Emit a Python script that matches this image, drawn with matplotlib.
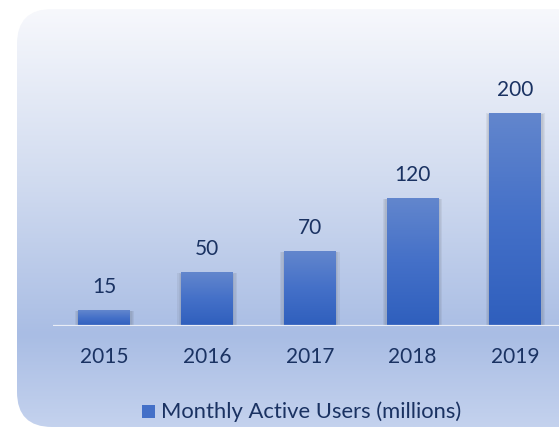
import matplotlib.pyplot as plt
import numpy as np
import matplotlib as mb
from matplotlib.colors import LinearSegmentedColormap
from matplotlib.patches import FancyBboxPatch, Rectangle

years = ["2015", "2016", "2017", "2018", "2019"]
users = [15, 50, 70, 120, 200]
series_name = "Monthly Active Users (millions)"

text_color = "#1a3262"
font = 15
mb.rcParams["font.family"] = ["Lato", "DejaVu Sans"]

W, H = 559, 430
fig = plt.figure(figsize=(W / 100, H / 100), dpi=100)

# background rounded card with vertical gradient
bg = fig.add_axes([0, 0, 1, 1])
bg.set_xlim(0, W)
bg.set_ylim(0, H)
bg.axis("off")
bg_cmap = LinearSegmentedColormap.from_list(
    "bg", [(0.0, "#c4d2ee"), (0.22, "#a9bde4"), (0.6, "#d2dcf0"), (1.0, "#f7f8fc")])
grad = np.linspace(0, 1, 256).reshape(-1, 1)
img = bg.imshow(grad, cmap=bg_cmap, extent=[17, W + 40, 3, 421], origin="lower",
                aspect="auto", zorder=0)
card = FancyBboxPatch((17 + 35, 3 + 35), W - 17 + 40 - 70, 418 - 70,
                      boxstyle="round,pad=35", transform=bg.transData,
                      facecolor="none", edgecolor="none")
bg.add_patch(card)
img.set_clip_path(card)

# main axes: categories -0.5..4.5 map to x=53..566.75 px
ax_left = 53 / W
ax_width = 513.75 / W
ax_bottom = 104 / H
ymax = 220
ax_height = ymax * 1.065 / H
ax = fig.add_axes([ax_left, ax_bottom, ax_width, ax_height])
ax.patch.set_alpha(0)
for s in ax.spines.values():
    s.set_visible(False)
ax.set_yticks([])
ax.set_xticks(range(len(years)))
ax.set_xticklabels(years, fontsize=font, color=text_color)
ax.tick_params(axis="x", length=0, pad=15)

bar_cmap = LinearSegmentedColormap.from_list("bar", ["#2f5fbd", "#4470c8", "#6286cd"])
bw = 0.506
for i, v in enumerate(users):
    # soft shadow
    for k, a in enumerate([0.06, 0.06, 0.07]):
        d = 0.012 * (k + 1)
        ax.add_patch(Rectangle((i - bw / 2 - d, -1.6), bw + 2 * d, v + 0.6 + d * 15,
                               facecolor="#333333", alpha=a, edgecolor="none", zorder=1))
    ax.imshow(np.linspace(0, 1, 100).reshape(-1, 1), cmap=bar_cmap, origin="lower",
              extent=[i - bw / 2, i + bw / 2, 0, v], aspect="auto", zorder=2)
    ax.text(i, v + 22, str(v), ha="center", va="center", fontsize=font, color=text_color)

ax.axhline(0, color="#e9edf6", lw=1.6, zorder=3)
ax.set_xlim(-0.5, len(years) - 0.5)
ax.set_ylim(0, ymax)

# legend
bg.add_patch(Rectangle((142, 12), 13, 13, facecolor="#4470c8", edgecolor="none", zorder=2))
bg.text(161, 18.5, series_name, ha="left", va="center", fontsize=font + 0.8, color=text_color)

fig.savefig("out.png", dpi=100)
